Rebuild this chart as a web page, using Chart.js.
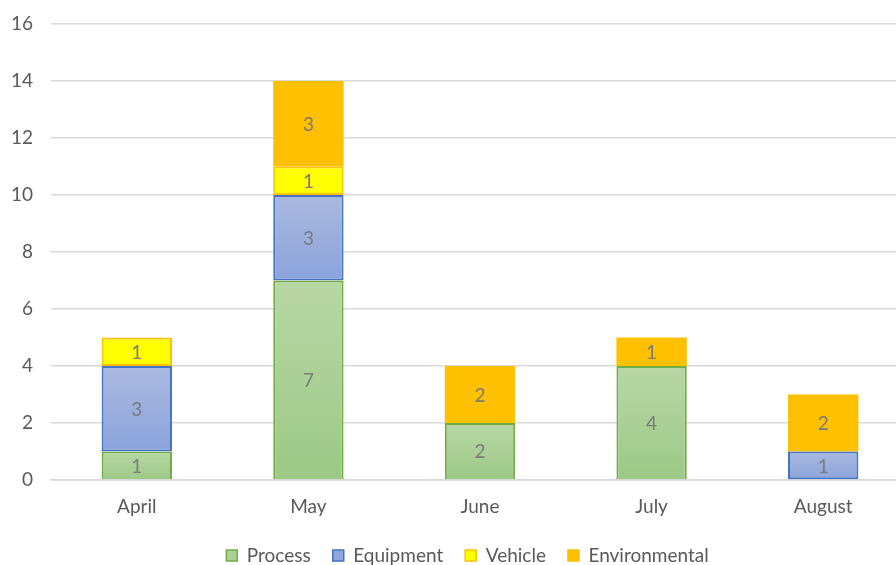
<!DOCTYPE html>
<html>
<head>
<meta charset="utf-8">
<script src="https://cdn.jsdelivr.net/npm/chart.js@4"></script>
<style>
  html, body { margin: 0; padding: 0; background: #fff; overflow: hidden; }
  #wrap { width: 910px; height: 565px; position: relative; }
</style>
</head>
<body>
<div id="wrap"><canvas id="chart"></canvas></div>
<script>
const months = ['April', 'May', 'June', 'July', 'August'];
const processData = [1, 7, 2, 4, 0];
const equipmentData = [3, 3, 0, 0, 1];
const vehicleData = [1, 1, 0, 0, 0];
const environmentalData = [0, 3, 2, 1, 2];
const yTicks = [0, 2, 4, 6, 8, 10, 12, 14, 16];

const allSeries = [processData, equipmentData, vehicleData, environmentalData];
const FONT = 'Lato, "Open Sans", sans-serif';
const FONT_SIZE = 19;

// per-segment vertical gradient, like the Excel fill
function gradientFill(topColor, bottomColor) {
  return (ctx) => {
    const chart = ctx.chart;
    if (ctx.type !== 'data' || !chart.chartArea) return bottomColor;
    const i = ctx.dataIndex, d = ctx.datasetIndex;
    let base = 0;
    for (let k = 0; k < d; k++) base += allSeries[k][i];
    const y = chart.scales.y;
    const y0 = y.getPixelForValue(base + allSeries[d][i]);
    const y1 = y.getPixelForValue(base);
    if (!isFinite(y0) || !isFinite(y1) || y0 === y1) return bottomColor;
    const g = chart.ctx.createLinearGradient(0, y0, 0, y1);
    g.addColorStop(0, topColor);
    g.addColorStop(1, bottomColor);
    return g;
  };
}

const legendColors = [
  { fill: '#a9cf94', stroke: '#70ad47' },
  { fill: '#8fa8dc', stroke: '#4472c4' },
  { fill: '#ffff00', stroke: '#ffc000' },
  { fill: '#ffc000', stroke: '#ffc000' }
];

const barLabels = {
  id: 'barLabels',
  afterDatasetsDraw(chart) {
    const c = chart.ctx;
    c.save();
    c.font = FONT_SIZE + 'px ' + FONT;
    c.fillStyle = '#7a7a7a';
    c.textAlign = 'center';
    c.textBaseline = 'middle';
    chart.data.datasets.forEach((ds, d) => {
      const meta = chart.getDatasetMeta(d);
      meta.data.forEach((el, i) => {
        const v = ds.data[i];
        if (!v) return;
        const p = el.getCenterPoint();
        c.fillText(String(v), p.x, p.y + 1);
      });
    });
    c.restore();
  }
};

// nudge the legend to where Excel put it
const legendShift = {
  id: 'legendShift',
  afterLayout(chart) {
    const lg = chart.legend;
    lg.left += 13; lg.right += 13;
    lg.top += 6; lg.bottom += 6;
  }
};

new Chart(document.getElementById('chart'), {
  type: 'bar',
  data: {
    labels: months,
    datasets: [
      { label: 'Process', data: processData,
        backgroundColor: gradientFill('#b7d7a5', '#9cc985'),
        borderColor: '#70ad47', borderWidth: { left: 2, right: 2, top: 2, bottom: 0 } },
      { label: 'Equipment', data: equipmentData,
        backgroundColor: gradientFill('#a9b9e0', '#8ba3dc'),
        borderColor: '#4472c4', borderWidth: 2 },
      { label: 'Vehicle', data: vehicleData,
        backgroundColor: '#ffff00', borderColor: '#ffc000', borderWidth: 2 },
      { label: 'Environmental', data: environmentalData,
        backgroundColor: '#ffc000', borderColor: '#ffc000', borderWidth: 0 }
    ]
  },
  options: {
    responsive: true,
    maintainAspectRatio: false,
    animation: false,
    layout: { padding: { top: 24, right: 1, left: 0, bottom: -4 } },
    datasets: {
      bar: { categoryPercentage: 1, barPercentage: 0.41, borderSkipped: false }
    },
    plugins: {
      tooltip: { enabled: false },
      legend: {
        position: 'bottom',
        labels: {
          font: { family: FONT, size: FONT_SIZE },
          color: '#595959',
          boxWidth: 11,
          boxHeight: 11,
          padding: 22,
          generateLabels(chart) {
            return chart.data.datasets.map((ds, i) => ({
              text: ds.label,
              fillStyle: legendColors[i].fill,
              strokeStyle: legendColors[i].stroke,
              lineWidth: 1.5,
              hidden: false,
              datasetIndex: i,
              fontColor: '#595959'
            }));
          }
        }
      }
    },
    scales: {
      x: {
        stacked: true,
        afterFit(scale) { scale.height = 38; },
        grid: { display: false, drawTicks: false },
        border: { display: true, color: '#d9d9d9', width: 1.5 },
        ticks: { color: '#595959', font: { family: FONT, size: FONT_SIZE }, padding: 15 }
      },
      y: {
        stacked: true,
        min: 0,
        max: 16,
        afterFit(scale) {
          scale.width = 51;
          scale.paddingTop = 0;
          scale.paddingBottom = 0;
        },
        afterBuildTicks(scale) { scale.ticks = yTicks.map(v => ({ value: v })); },
        grid: { color: '#d9d9d9', lineWidth: 1.5, drawTicks: false },
        border: { display: false },
        ticks: { color: '#595959', font: { family: FONT, size: FONT_SIZE }, padding: 18 }
      }
    }
  },
  plugins: [barLabels, legendShift]
});
</script>
</body>
</html>
